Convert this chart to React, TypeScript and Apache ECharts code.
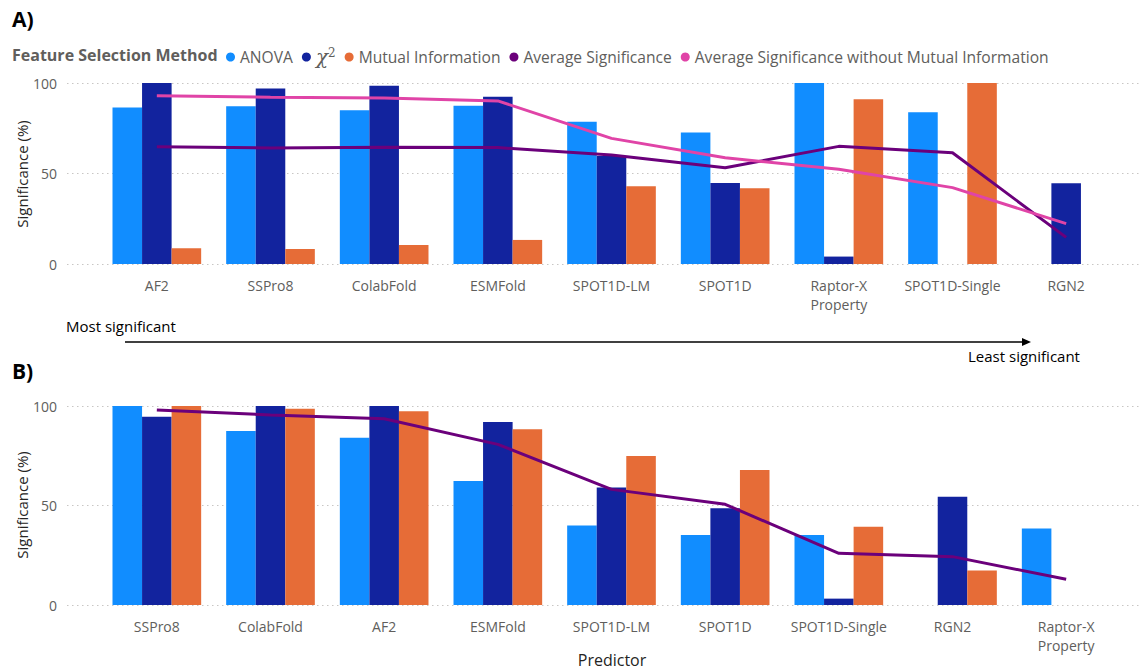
import React, { useEffect, useRef } from "react";
import * as echarts from "echarts";

const categoriesA = ["AF2", "SSPro8", "ColabFold", "ESMFold", "SPOT1D-LM", "SPOT1D", "Raptor-X\nProperty", "SPOT1D-Single", "RGN2"];
const anovaA = [86.4, 87.1, 84.9, 87.5, 78.6, 72.7, 100, 83.8, null];
const chiA = [100, 96.9, 98.5, 92.4, 59.7, 44.8, 4.1, null, 44.6];
const miA = [8.7, 8.3, 10.5, 13.3, 42.9, 41.8, 91.0, 100, null];
const avgA = [64.8, 64.1, 64.5, 64.3, 60.2, 53.2, 65.0, 61.5, 14.7];
const avgNoMiA = [93.0, 92.1, 91.7, 90.1, 69.4, 58.7, 52.3, 42.2, 22.3];

const categoriesB = ["SSPro8", "ColabFold", "AF2", "ESMFold", "SPOT1D-LM", "SPOT1D", "SPOT1D-Single", "RGN2", "Raptor-X\nProperty"];
const anovaB = [100, 87.4, 84.1, 62.3, 39.9, 35.2, 35.2, null, 38.4];
const chiB = [94.6, 100, 100, 92.0, 59.1, 48.6, 3.2, 54.4, null];
const miB = [100, 98.6, 97.3, 88.3, 74.9, 67.8, 39.3, 17.3, null];
const avgB = [98.0, 95.5, 93.6, 80.7, 58.1, 50.6, 26.0, 24.3, 12.9];

const yTicks = [0, 50, 100];

const NAMES = ["ANOVA", "χ²", "Mutual Information", "Average Significance", "Average Significance without Mutual Information"];
const COLORS = ["#118DFF", "#12239E", "#E66C37", "#6B007B", "#E044A7"];
const FONT = "'Segoe UI', 'Open Sans', sans-serif";
const GRAY = "#605E5C";

export default function App() {
  const ref = useRef<HTMLDivElement>(null);
  useEffect(() => {
    const chart = echarts.init(ref.current!, null, { renderer: "svg" });
    const gridsDef = [
      { top: 83, height: 181 },
      { top: 406, height: 199 },
    ];
    const grids: any[] = [];
    const xAxes: any[] = [];
    const yAxes: any[] = [];
    gridsDef.forEach((g, i) => {
      grids.push({ left: 67, right: 6, top: g.top, height: g.height });
      grids.push({ left: 100, right: 25, top: g.top, height: g.height });
      xAxes.push({ type: "value", gridIndex: i * 2, show: false, min: 0, max: 1 });
      xAxes.push({
        type: "category",
        gridIndex: i * 2 + 1,
        data: i === 0 ? categoriesA : categoriesB,
        axisLine: { show: false },
        axisTick: { show: false },
        axisLabel: { color: GRAY, fontSize: 14, fontFamily: FONT, margin: 12, lineHeight: 19, interval: 0 },
      });
      yAxes.push({
        type: "value",
        gridIndex: i * 2,
        min: yTicks[0],
        max: yTicks[yTicks.length - 1],
        interval: 50,
        axisLine: { show: false },
        axisTick: { show: false },
        axisLabel: { color: GRAY, fontSize: 14, fontFamily: FONT, margin: 10 },
        splitLine: { show: true, lineStyle: { color: "#C8C6C4", width: 1, type: [1.5, 3.5] } },
      });
      yAxes.push({ type: "value", gridIndex: i * 2 + 1, min: 0, max: 100, show: false, splitLine: { show: false } });
    });

    const series: any[] = [];
    const addBars = (xi: number, data: any[][]) => {
      data.forEach((d, k) => {
        series.push({
          name: NAMES[k],
          type: "bar",
          xAxisIndex: xi,
          yAxisIndex: xi,
          data: d,
          barGap: "0%",
          barCategoryGap: "22%",
          itemStyle: { color: COLORS[k] },
        });
      });
    };
    addBars(1, [anovaA, chiA, miA]);
    addBars(3, [anovaB, chiB, miB]);
    const line = (xi: number, name: string, d: number[], color: string, z: number) => ({
      name,
      type: "line",
      xAxisIndex: xi,
      yAxisIndex: xi,
      data: d,
      symbol: "none",
      lineStyle: { color, width: 3 },
      itemStyle: { color },
      z,
    });
    series.push(line(1, NAMES[3], avgA, COLORS[3], 3));
    series.push(line(1, NAMES[4], avgNoMiA, COLORS[4], 4));
    series.push(line(3, NAMES[3], avgB, COLORS[3], 3));

    chart.setOption({
      animation: false,
      backgroundColor: "#ffffff",
      grid: grids,
      xAxis: xAxes,
      yAxis: yAxes,
      legend: {
        data: NAMES,
        left: 221,
        top: 42,
        icon: "circle",
        itemWidth: 9,
        itemHeight: 9,
        itemGap: 9,
        textStyle: {
          color: GRAY,
          fontSize: 15.6,
          fontFamily: FONT,
          rich: {
            chi: { fontFamily: "'DejaVu Serif', serif", fontStyle: "italic", fontSize: 20, color: GRAY },
            sup: { fontFamily: "'DejaVu Serif', serif", fontSize: 12, color: GRAY, verticalAlign: "top" },
          },
        },
        formatter: (n: string) => (n === "χ²" ? "{chi|χ}{sup|2}" : n),
      },
      series,
      graphic: [
        { type: "text", left: 12, top: 8, style: { text: "A)", font: `bold 21px ${FONT}`, fill: "#000" } },
        { type: "text", left: 12, top: 360, style: { text: "B)", font: `bold 21px ${FONT}`, fill: "#000" } },
        { type: "text", left: 12, top: 47, style: { text: "Feature Selection Method", font: `bold 16px ${FONT}`, fill: GRAY } },
        {
          type: "text", x: 22, y: 174, rotation: Math.PI / 2,
          style: { text: "Significance (%)", font: `15px ${FONT}`, fill: "#252423", align: "center", verticalAlign: "middle" },
        },
        {
          type: "text", x: 22, y: 505, rotation: Math.PI / 2,
          style: { text: "Significance (%)", font: `15px ${FONT}`, fill: "#252423", align: "center", verticalAlign: "middle" },
        },
        { type: "text", x: 66, y: 326, style: { text: "Most significant", font: `15px ${FONT}`, fill: "#000", verticalAlign: "middle" } },
        { type: "text", x: 968, y: 356, style: { text: "Least significant", font: `15px ${FONT}`, fill: "#000", verticalAlign: "middle" } },
        { type: "line", shape: { x1: 125, y1: 342, x2: 1024, y2: 342 }, style: { stroke: "#000", lineWidth: 1.5 } },
        { type: "polygon", shape: { points: [[1031, 342], [1022, 338], [1022, 346]] }, style: { fill: "#000" } },
        { type: "text", x: 612, y: 660, style: { text: "Predictor", font: `500 16px ${FONT}`, fill: "#252423", align: "center", verticalAlign: "middle" } },
      ],
    });
    return () => chart.dispose();
  }, []);
  return <div ref={ref} style={{ position: "fixed", left: 0, top: 0, width: 1148, height: 671 }} />;
}
